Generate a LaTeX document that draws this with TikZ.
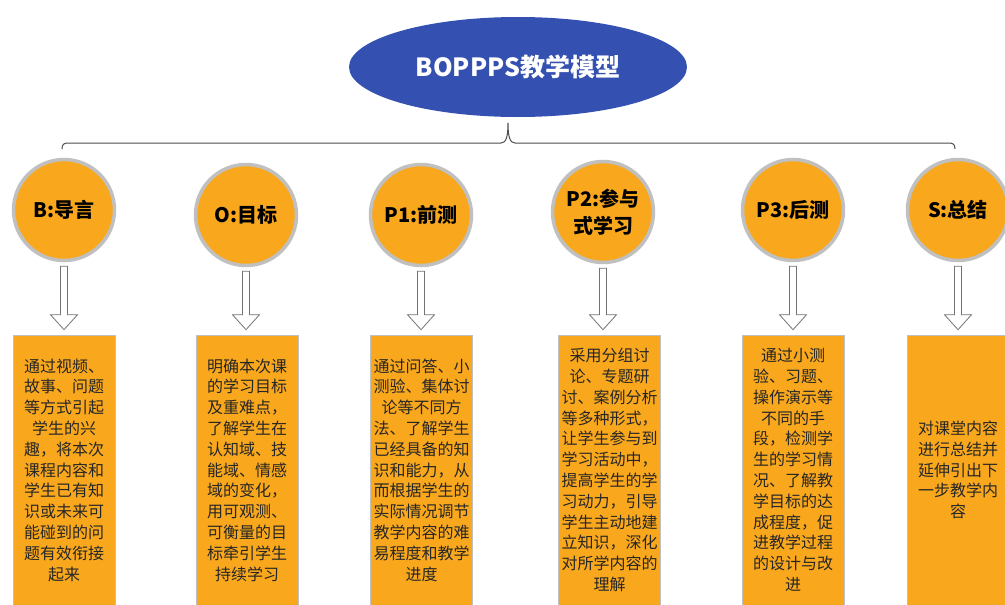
\documentclass[tikz,border=0pt]{standalone}
\usepackage{fontspec}
\setmainfont{Noto Sans CJK SC}
\usetikzlibrary{shapes.geometric,calc}
\definecolor{modelblue}{RGB}{52,80,176}
\definecolor{phaseorange}{RGB}{249,168,30}
\definecolor{ringgray}{RGB}{192,192,192}

\begin{document}
\begin{tikzpicture}
[x=1pt,y=-1pt,
  model/.style={ellipse,fill=modelblue,minimum width=338pt,minimum height=100pt,
    text=white,font=\fontsize{25}{30}\selectfont\bfseries},
  phase/.style={circle,fill=phaseorange,draw=ringgray,line width=3.5pt,minimum size=101pt,
    inner sep=0pt,align=center,font=\fontsize{20}{27}\selectfont\bfseries},
  detail/.style={rectangle,fill=phaseorange,draw=ringgray,line width=0.6pt,minimum width=102pt,
    minimum height=270pt,inner sep=0pt,align=center,text=black!85,font=\fontsize{16}{20.8}\selectfont},
  hollow/.style={draw=black!55,fill=white,line width=0.8pt,
    to path={let \p1=(\tikztostart),\p2=(\tikztotarget) in
      (\x1-3.5pt,\y1-4pt) -- (\x1+3.5pt,\y1-4pt) -- (\x1+3.5pt,\y2+20pt) -- (\x1+13.5pt,\y2+20pt)
      -- (\x1,\y2+5pt) -- (\x1-13.5pt,\y2+20pt) -- (\x1-3.5pt,\y2+20pt) -- cycle}}]
  \useasboundingbox (0,0) rectangle (1005,605);

  \node[model] (model) at 	(518,67) {BOPPPS教学模型};

  \coordinate (braceleft) at 	(62,149);
  \coordinate (bracetip) at 	(508,123);
  \coordinate (braceright) at 	(955,149);
  \draw[black!70,line width=1pt] (braceleft) .. controls (62,144) and (64,143) .. (69,143)
    -- (501,143) .. controls (506,143) and (508,137) .. (bracetip)
    .. controls (508,137) and (510,143) .. (515,143) -- (948,143)
    .. controls (953,143) and (955,144) .. (braceright);

  \node[phase] (intro) at 		(64,210) {B:导言};
  \node[phase] (goal) at 		(246,215) {O:目标};
  \node[phase] (pretest) at 		(421,215) {P1:前测};
  \node[phase] (participate) at 	(603,212) {P2:参与\\式学习};
  \node[phase] (posttest) at 		(793,210) {P3:后测};
  \node[phase] (summary) at 		(958,210) {S:总结};

  \node[detail] (introtext) at 		(64,470) {通过视频、\\故事、问题\\等方式引起\\学生的兴\\趣，将本次\\课程内容和\\学生已有知\\识或未来可\\能碰到的问\\题有效衔接\\起来};
  \node[detail] (goaltext) at 		(247,470) {明确本次课\\的学习目标\\及重难点，\\了解学生在\\认知域、技\\能域、情感\\域的变化，\\用可观测、\\可衡量的目\\标牵引学生\\持续学习};
  \node[detail] (pretesttext) at 	(421.5,470) {通过问答、小\\测验、集体讨\\论等不同方\\法、了解学生\\已经具备的知\\识和能力，从\\而根据学生的\\实际情况调节\\教学内容的难\\易程度和教学\\进度};
  \node[detail] (participatetext) at 	(609.5,470) {采用分组讨\\论、专题研\\讨、案例分析\\等多种形式，\\让学生参与到\\学习活动中，\\提高学生的学\\习动力，引导\\学生主动地建\\立知识，深化\\对所学内容的\\理解};
  \node[detail] (posttesttext) at 	(793,470) {通过小测\\验、习题、\\操作演示等\\不同的手\\段，检测学\\生的学习情\\况、了解教\\学目标的达\\成程度，促\\进教学过程\\的设计与改\\进};
  \node[detail] (summarytext) at 	(958,470) {对课堂内容\\进行总结并\\延伸引出下\\一步教学内\\容};

   \foreach \from/\to in {intro/introtext, goal/goaltext,
      pretest/pretesttext, participate/participatetext,
      posttest/posttesttext, summary/summarytext}
     \draw[hollow] (\from.south) to (\to.north);

\end{tikzpicture}
\end{document}
